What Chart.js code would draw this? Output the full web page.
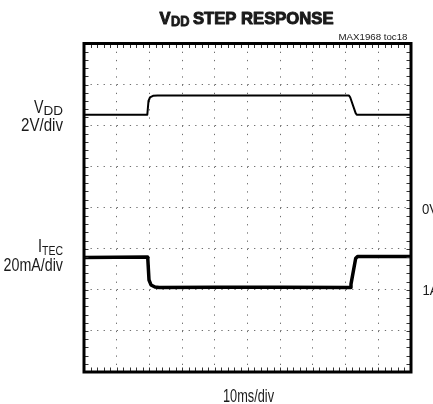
<!DOCTYPE html>
<html><head><meta charset="utf-8">
<script src="https://cdn.jsdelivr.net/npm/chart.js@4"></script>
<style>html,body{margin:0;padding:0;background:#fff;overflow:hidden}#wrap{width:433px;height:404px}</style>
</head><body><div id="wrap"><canvas id="c" width="433" height="404"></canvas></div>
<script>
// Horizontal: time in ms (10 ms/div). Vertical: screen divisions counted from the bottom (0..8).
const vddTimeMs   = [0, 19.36, 19.72, 20.18, 21.1, 22.5, 81.04, 81.4, 83.1, 83.4, 100];
const vddLevelDiv = [6.264, 6.264, 6.60, 6.685, 6.725, 6.732, 6.732, 6.69, 6.30, 6.264, 6.264];
const itecTimeMs   = [0, 19.48, 19.88, 20.49, 21.7, 23, 40, 60, 81.35, 81.65, 83.09, 83.64, 100];
const itecLevelDiv = [2.79, 2.80, 2.24, 2.12, 2.07, 2.06, 2.065, 2.065, 2.06, 2.14, 2.77, 2.81, 2.81];
const xTicksMs  = [0, 10, 20, 30, 40, 50, 60, 70, 80, 90, 100];
const yTicksDiv = [0, 1, 2, 3, 4, 5, 6, 7, 8];
const minorPerMajor = 5;

const TXT = '#1a1a1a';
function drawScaled(ctx, text, x, baseline, font, width, align, scale, stroke) {
  ctx.save();
  ctx.font = font;
  const w = ctx.measureText(text).width;
  const s = scale ? scale : width / w;
  const tw = w * s;
  const left = align === 'right' ? x - tw : align === 'center' ? x - tw / 2 : x;
  ctx.translate(left, baseline);
  ctx.scale(s, 1);
  ctx.textAlign = 'left';
  ctx.textBaseline = 'alphabetic';
  ctx.fillStyle = TXT;
  ctx.fillText(text, 0, 0);
  if (stroke) {
    ctx.strokeStyle = TXT;
    ctx.lineWidth = stroke;
    ctx.lineJoin = 'round';
    ctx.strokeText(text, 0, 0);
  }
  ctx.restore();
}

const scopePlugin = {
  id: 'scope',
  afterDatasetsDraw(chart) {
    const ctx = chart.ctx, a = chart.chartArea;
    const xs = chart.scales.x, ys = chart.scales.y;
    ctx.save();
    // minor tick marks on the frame
    ctx.strokeStyle = '#333';
    ctx.lineWidth = 1;
    ctx.beginPath();
    const xStep = (xTicksMs[1] - xTicksMs[0]) / minorPerMajor;
    for (let v = xTicksMs[0]; v <= xTicksMs[xTicksMs.length - 1] + 1e-9; v += xStep) {
      const px = Math.round(xs.getPixelForValue(v)) + 0.5;
      ctx.moveTo(px, a.bottom); ctx.lineTo(px, a.bottom - 4.5);
      ctx.moveTo(px, a.top); ctx.lineTo(px, a.top + 4.5);
    }
    const yStep = (yTicksDiv[1] - yTicksDiv[0]) / minorPerMajor;
    for (let v = yTicksDiv[0]; v <= yTicksDiv[yTicksDiv.length - 1] + 1e-9; v += yStep) {
      const py = Math.round(ys.getPixelForValue(v)) + 0.5;
      ctx.moveTo(a.left, py); ctx.lineTo(a.left + 4.5, py);
      ctx.moveTo(a.right, py); ctx.lineTo(a.right - 4.5, py);
    }
    ctx.stroke();
    // frame
    ctx.strokeStyle = '#000';
    ctx.lineWidth = 3;
    ctx.strokeRect(a.left, a.top, a.right - a.left, a.bottom - a.top);
    ctx.restore();
  },
  afterDraw(chart) {
    const ctx = chart.ctx;
    // title (heavy condensed look)
    drawScaled(ctx, 'V', 159.5, 23.5, 'bold 16.5px "Liberation Sans"', 11, 'left', 0, 1);
    drawScaled(ctx, 'DD', 171, 26.2, 'bold 14px "Liberation Sans"', 18.5, 'left', 0, 0.9);
    drawScaled(ctx, 'STEP RESPONSE', 193, 23.5, 'bold 16.5px "Liberation Sans"', 140.5, 'left', 0, 1);
    drawScaled(ctx, 'MAX1968 toc18', 407.5, 39.5, '8.5px "Liberation Sans"', 69, 'right');
    // channel labels
    drawScaled(ctx, 'DD', 63, 115, '13.5px "Liberation Sans"', 19.5, 'right');
    drawScaled(ctx, 'V', 43.5, 113, '17.5px "Liberation Sans"', 9.5, 'right');
    drawScaled(ctx, '2V/div', 63, 131, '17.5px "Liberation Sans"', 42, 'right');
    drawScaled(ctx, 'TEC', 63, 255, '13.5px "Liberation Sans"', 21, 'right');
    drawScaled(ctx, 'I', 42, 252, '17.5px "Liberation Sans"', 4, 'right');
    drawScaled(ctx, '20mA/div', 63, 271, '17.5px "Liberation Sans"', 59.5, 'right');
    drawScaled(ctx, '10ms/div', 248.5, 401.5, '18px "Liberation Sans"', 51, 'center');
    // neighbouring labels, cut at the page edge
    drawScaled(ctx, '0V', 422, 214, '15.5px "Liberation Sans"', 0, 'left', 0.85);
    drawScaled(ctx, '1A', 422.5, 295, '15.5px "Liberation Sans"', 0, 'left', 0.85);
  }
};

const toXY = (xs, ys) => xs.map((x, i) => ({ x, y: ys[i] }));

new Chart(document.getElementById('c'), {
  type: 'line',
  data: {
    datasets: [
      { label: 'VDD', data: toXY(vddTimeMs, vddLevelDiv), borderColor: '#000', borderWidth: 2,
        pointRadius: 0, tension: 0, borderJoinStyle: 'round', fill: false },
      { label: 'ITEC', data: toXY(itecTimeMs, itecLevelDiv), borderColor: '#000', borderWidth: 3.5,
        pointRadius: 0, tension: 0, borderJoinStyle: 'round', fill: false }
    ]
  },
  options: {
    responsive: false,
    devicePixelRatio: 1,
    animation: false,
    events: [],
    layout: { padding: { left: 84, right: 22, top: 43.5, bottom: 32 } },
    plugins: { legend: { display: false }, title: { display: false }, tooltip: { enabled: false } },
    scales: {
      x: {
        type: 'linear', min: xTicksMs[0], max: xTicksMs[xTicksMs.length - 1],
        afterBuildTicks: s => { s.ticks = xTicksMs.map(v => ({ value: v })); },
        ticks: { display: false },
        grid: { color: '#6e6e6e', lineWidth: 1, drawTicks: false },
        border: { display: false, dash: [1.3, 6.91] }
      },
      y: {
        type: 'linear', min: yTicksDiv[0], max: yTicksDiv[yTicksDiv.length - 1],
        afterBuildTicks: s => { s.ticks = yTicksDiv.map(v => ({ value: v })); },
        ticks: { display: false },
        grid: { color: '#6e6e6e', lineWidth: 1, drawTicks: false },
        border: { display: false, dash: [1.3, 5.24] }
      }
    }
  },
  plugins: [scopePlugin]
});
</script></body></html>
